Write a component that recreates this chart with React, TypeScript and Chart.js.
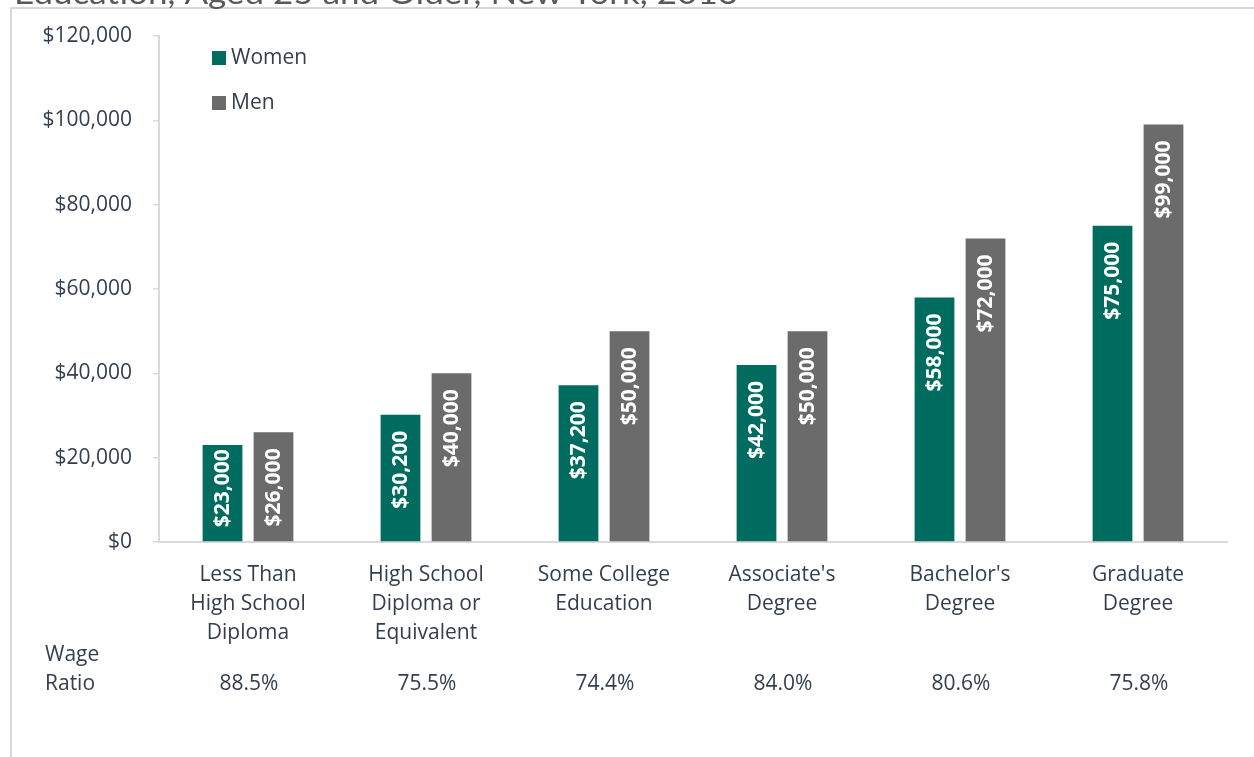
import React, { useEffect, useRef } from "react";
import { Chart, registerables } from "chart.js";

Chart.register(...registerables);

const titleText = "Education, Aged 25 and Older, New York, 2016";
const categories: string[][] = [
  ["Less Than", "High School", "Diploma"],
  ["High School", "Diploma or", "Equivalent"],
  ["Some College", "Education"],
  ["Associate's", "Degree"],
  ["Bachelor's", "Degree"],
  ["Graduate", "Degree"],
];
const womenValues = [23000, 30200, 37200, 42000, 58000, 75000];
const menValues = [26000, 40000, 50000, 50000, 72000, 99000];
const wageRatioLabel = ["Wage", "Ratio"];
const wageRatios = ["88.5%", "75.5%", "74.4%", "84.0%", "80.6%", "75.8%"];
const yMax = 120000;
const yStep = 20000;

const FONT = "'Open Sans', 'Liberation Sans', sans-serif";
const TEXT = "#333F4F";
const GRID = "#D9D9D9";
const WOMEN = "#006B5F";
const MEN = "#6B6B6B";

const fmt = (v: number) => "$" + Math.round(v).toLocaleString("en-US");

const framePlugin = {
  id: "frame",
  beforeDraw(chart: any) {
    const ctx = chart.ctx;
    ctx.save();
    ctx.fillStyle = "#FFFFFF";
    ctx.fillRect(0, 0, chart.width, chart.height);
    ctx.strokeStyle = GRID;
    ctx.lineWidth = 2;
    ctx.beginPath();
    ctx.moveTo(11, chart.height + 2);
    ctx.lineTo(11, 8);
    ctx.lineTo(chart.width + 2, 8);
    ctx.stroke();
    ctx.font = "30px Lato, 'Open Sans', sans-serif";
    const w = ctx.measureText(titleText).width;
    const target = 724;
    ctx.save();
    ctx.translate(14, 4);
    ctx.scale(target / w, 1);
    ctx.fillStyle = "#595959";
    ctx.textBaseline = "alphabetic";
    ctx.textAlign = "left";
    ctx.fillText(titleText, 0, 0);
    ctx.restore();
    ctx.restore();
  },
};

const barLabelPlugin = {
  id: "barLabels",
  afterDatasetsDraw(chart: any) {
    const ctx = chart.ctx;
    ctx.save();
    ctx.font = `bold 21px ${FONT}`;
    ctx.fillStyle = "#FFFFFF";
    chart.data.datasets.forEach((ds: any, di: number) => {
      const meta = chart.getDatasetMeta(di);
      meta.data.forEach((bar: any, i: number) => {
        const text = fmt(ds.data[i]);
        const tw = ctx.measureText(text).width;
        const endY = Math.min(bar.y + 16, bar.base - tw - 14);
        ctx.save();
        ctx.translate(bar.x, endY);
        ctx.rotate(-Math.PI / 2);
        ctx.textAlign = "right";
        ctx.textBaseline = "middle";
        ctx.fillText(text, 0, 1);
        ctx.restore();
      });
    });
    ctx.restore();
  },
};

const legendPlugin = {
  id: "customLegend",
  afterDraw(chart: any) {
    const ctx = chart.ctx;
    ctx.save();
    ctx.font = `21px ${FONT}`;
    ctx.textBaseline = "middle";
    ctx.textAlign = "left";
    chart.data.datasets.forEach((ds: any, di: number) => {
      const cy = 58 + di * 45;
      ctx.fillStyle = ds.backgroundColor;
      ctx.fillRect(212, cy - 7, 14, 14);
      ctx.fillStyle = TEXT;
      ctx.fillText(ds.label, 231, cy);
    });
    ctx.restore();
  },
};

const wageRatioPlugin = {
  id: "wageRatio",
  afterDraw(chart: any) {
    const ctx = chart.ctx;
    const xs = chart.scales.x;
    ctx.save();
    ctx.font = `21px ${FONT}`;
    ctx.fillStyle = TEXT;
    ctx.textBaseline = "middle";
    ctx.textAlign = "left";
    ctx.fillText(wageRatioLabel[0], 45, 655);
    ctx.fillText(wageRatioLabel[1], 45, 684);
    ctx.textAlign = "center";
    wageRatios.forEach((r, i) => {
      ctx.fillText(r, xs.getPixelForValue(i) + 1, 684);
    });
    ctx.restore();
  },
};

export default function App() {
  const ref = useRef<HTMLCanvasElement | null>(null);
  useEffect(() => {
    if (!ref.current) return;
    const chart = new Chart(ref.current, {
      type: "bar",
      data: {
        labels: categories,
        datasets: [
          {
            label: "Women",
            data: womenValues,
            backgroundColor: WOMEN,
            categoryPercentage: 0.573,
            barPercentage: 0.78,
          },
          {
            label: "Men",
            data: menValues,
            backgroundColor: MEN,
            categoryPercentage: 0.573,
            barPercentage: 0.78,
          },
        ],
      },
      options: {
        animation: false,
        responsive: false,
        devicePixelRatio: 1,
        layout: { padding: { top: 36, right: 27, left: 0, bottom: 0 } },
        plugins: {
          legend: { display: false },
          tooltip: { enabled: false },
          title: { display: false },
        },
        scales: {
          x: {
            grid: { display: false, drawTicks: false },
            border: { display: true, color: GRID, width: 2 },
            ticks: {
              color: TEXT,
              font: { family: FONT, size: 21, lineHeight: 1.38 },
              padding: 19,
              maxRotation: 0,
              autoSkip: false,
            },
            afterFit(scale: any) {
              scale.height = 215;
            },
          },
          y: {
            min: 0,
            max: yMax,
            grid: {
              drawOnChartArea: false,
              drawTicks: true,
              tickLength: 6,
              color: GRID,
              lineWidth: 1.5,
            },
            border: { display: true, color: GRID, width: 2 },
            ticks: {
              stepSize: yStep,
              color: TEXT,
              padding: 21,
              font: { family: FONT, size: 21 },
              callback: (v: any) => fmt(Number(v)),
            },
            afterFit(scale: any) {
              scale.width = 159;
            },
          },
        },
      },
      plugins: [framePlugin, barLabelPlugin, legendPlugin, wageRatioPlugin],
    } as any);
    return () => chart.destroy();
  }, []);
  return (
    <div style={{ position: "absolute", left: 0, top: 0, width: 1254, height: 757 }}>
      <canvas ref={ref} width={1254} height={757} style={{ display: "block" }} />
    </div>
  );
}
